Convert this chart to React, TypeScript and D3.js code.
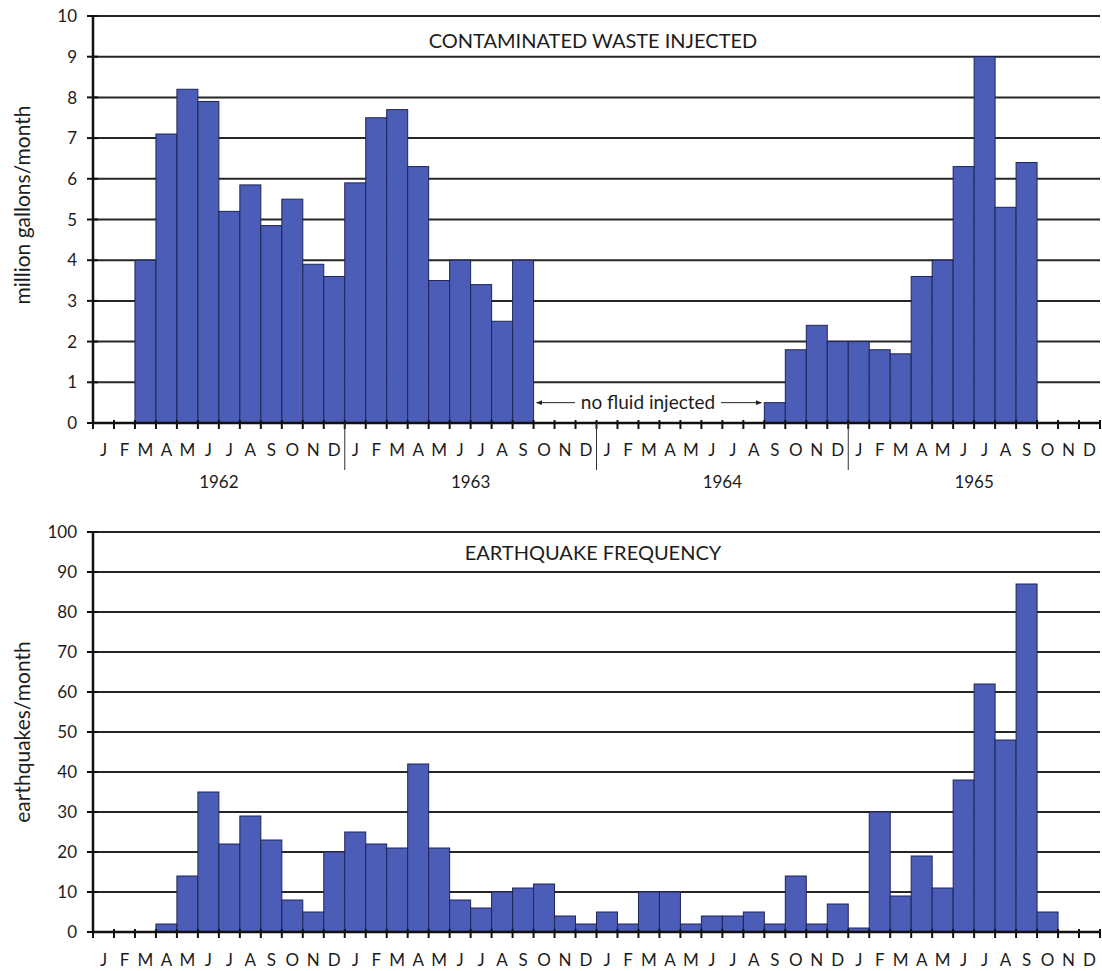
import React from "react";
import * as d3 from "d3";

const monthLabels = ["J", "F", "M", "A", "M", "J", "J", "A", "S", "O", "N", "D"];
const years = [1962, 1963, 1964, 1965];

// million gallons/month, Jan 1962 .. Dec 1965
const waste1962 = [0, 0, 4.0, 7.1, 8.2, 7.9, 5.2, 5.85, 4.85, 5.5, 3.9, 3.6];
const waste1963 = [5.9, 7.5, 7.7, 6.3, 3.5, 4.0, 3.4, 2.5, 4.0, 0, 0, 0];
const waste1964 = [0, 0, 0, 0, 0, 0, 0, 0, 0.5, 1.8, 2.4, 2.0];
const waste1965 = [2.0, 1.8, 1.7, 3.6, 4.0, 6.3, 9.0, 5.3, 6.4, 0, 0, 0];

// earthquakes/month, Jan 1962 .. Dec 1965
const quakes1962 = [0, 0, 0, 2, 14, 35, 22, 29, 23, 8, 5, 20];
const quakes1963 = [25, 22, 21, 42, 21, 8, 6, 10, 11, 12, 4, 2];
const quakes1964 = [5, 2, 10, 10, 2, 4, 4, 5, 2, 14, 2, 7];
const quakes1965 = [1, 30, 9, 19, 11, 38, 62, 48, 87, 5, 0, 0];

const wasteTicks = [0, 1, 2, 3, 4, 5, 6, 7, 8, 9, 10];
const quakeTicks = [0, 10, 20, 30, 40, 50, 60, 70, 80, 90, 100];

const waste = [...waste1962, ...waste1963, ...waste1964, ...waste1965];
const quakes = [...quakes1962, ...quakes1963, ...quakes1964, ...quakes1965];
const nMonths = years.length * 12;
const idx = d3.range(nMonths);

const FONT = "Lato, 'Open Sans', sans-serif";
const TEXT = "#1c1c1c";
const BAR_FILL = "#4c5db8";
const BAR_STROKE = "#1e2555";
const GRID = "#262626";

const X0 = 93;
const X1 = 1100;

type PanelProps = {
  values: number[];
  ticks: number[];
  yTop: number;
  yBottom: number;
  title: string;
  titleY: number;
  yLabel: string;
  yLabelCenter: number;
  monthY: number;
  showYears: boolean;
};

function Panel(p: PanelProps) {
  const x = d3.scaleBand<number>().domain(idx).range([X0, X1]).paddingInner(0).paddingOuter(0);
  const y = d3.scaleLinear().domain([0, p.ticks[p.ticks.length - 1]]).range([p.yBottom, p.yTop]);
  const bw = x.bandwidth();
  return (
    <g>
      {p.ticks.map((t) => (
        <line key={"g" + t} x1={X0} x2={X1} y1={y(t)} y2={y(t)} stroke={GRID} strokeWidth={2} />
      ))}
      {p.values.map((v, i) =>
        v > 0 ? (
          <rect
            key={"b" + i}
            x={x(i)!}
            y={y(v)}
            width={bw}
            height={y(0) - y(v)}
            fill={BAR_FILL}
            stroke={BAR_STROKE}
            strokeWidth={1}
          />
        ) : null
      )}
      <line x1={X0} x2={X0} y1={p.yTop} y2={p.yBottom} stroke="#111" strokeWidth={2.5} />
      {p.ticks.map((t) => (
        <g key={"yt" + t}>
          <line x1={X0 - 6} x2={X0 + 5} y1={y(t)} y2={y(t)} stroke="#111" strokeWidth={2} />
          <text x={X0 - 16} y={y(t)} dy="0.36em" textAnchor="end" fontSize={17} fill={TEXT} fontFamily={FONT}>
            {t}
          </text>
        </g>
      ))}
      <line x1={X0} x2={X1} y1={y(0)} y2={y(0)} stroke="#111" strokeWidth={2.5} />
      {d3.range(nMonths + 1).map((i) => {
        const xx = i < nMonths ? x(i)! : X1;
        return <line key={"xt" + i} x1={xx} x2={xx} y1={y(0) - 3} y2={y(0) + 6} stroke="#111" strokeWidth={2} />;
      })}
      {idx.map((i) => (
        <text
          key={"ml" + i}
          x={x(i)! + bw / 2}
          y={p.monthY}
          textAnchor="middle"
          fontSize={17}
          fill={TEXT}
          fontFamily={FONT}
        >
          {monthLabels[i % 12]}
        </text>
      ))}
      {p.showYears &&
        years.map((yr, k) => (
          <g key={"yr" + yr}>
            <text
              x={x(k * 12)! + 6 * bw}
              y={p.monthY + 32}
              textAnchor="middle"
              fontSize={17}
              fill={TEXT}
              fontFamily={FONT}
            >
              {yr}
            </text>
            {k > 0 && (
              <line x1={x(k * 12)!} x2={x(k * 12)!} y1={y(0)} y2={y(0) + 47} stroke="#333" strokeWidth={1} />
            )}
          </g>
        ))}
      <text x={593} y={p.titleY} textAnchor="middle" fontSize={20} fill={TEXT} fontFamily={FONT}>
        {p.title}
      </text>
      <text
        transform={`translate(30,${p.yLabelCenter}) rotate(-90)`}
        textAnchor="middle"
        fontSize={21}
        fill={TEXT}
        fontFamily={FONT}
      >
        {p.yLabel}
      </text>
    </g>
  );
}

export default function App() {
  const yTopScale = d3.scaleLinear().domain([0, 10]).range([423, 16]);
  const xb = d3.scaleBand<number>().domain(idx).range([X0, X1]);
  const arrowY = yTopScale(0.5);
  const leftStart = xb(21)! + 3;
  const rightEnd = xb(32)! - 3;
  return (
    <svg
      width={1102}
      height={971}
      style={{ position: "absolute", left: 0, top: 0, background: "#fff" }}
      xmlns="http://www.w3.org/2000/svg"
    >
      <defs>
        <marker id="ah" viewBox="0 0 10 10" refX="9" refY="5" markerWidth="6" markerHeight="6" orient="auto-start-reverse">
          <path d="M0,1 L10,5 L0,9 z" fill="#222" />
        </marker>
      </defs>
      <rect x={0} y={0} width={1102} height={971} fill="#fff" />
      <Panel
        values={waste}
        ticks={wasteTicks}
        yTop={16}
        yBottom={423}
        title="CONTAMINATED WASTE INJECTED"
        titleY={48}
        yLabel="million gallons/month"
        yLabelCenter={205}
        monthY={456}
        showYears={true}
      />
      <Panel
        values={quakes}
        ticks={quakeTicks}
        yTop={532}
        yBottom={932}
        title="EARTHQUAKE FREQUENCY"
        titleY={560}
        yLabel="earthquakes/month"
        yLabelCenter={732}
        monthY={966}
        showYears={false}
      />
      <line x1={leftStart} x2={575} y1={arrowY} y2={arrowY} stroke="#222" strokeWidth={1} markerStart="url(#ah)" />
      <line x1={721} x2={rightEnd} y1={arrowY} y2={arrowY} stroke="#222" strokeWidth={1} markerEnd="url(#ah)" />
      <text x={648} y={arrowY} dy="0.36em" textAnchor="middle" fontSize={19} fill={TEXT} fontFamily={FONT}>
        no fluid injected
      </text>
    </svg>
  );
}
